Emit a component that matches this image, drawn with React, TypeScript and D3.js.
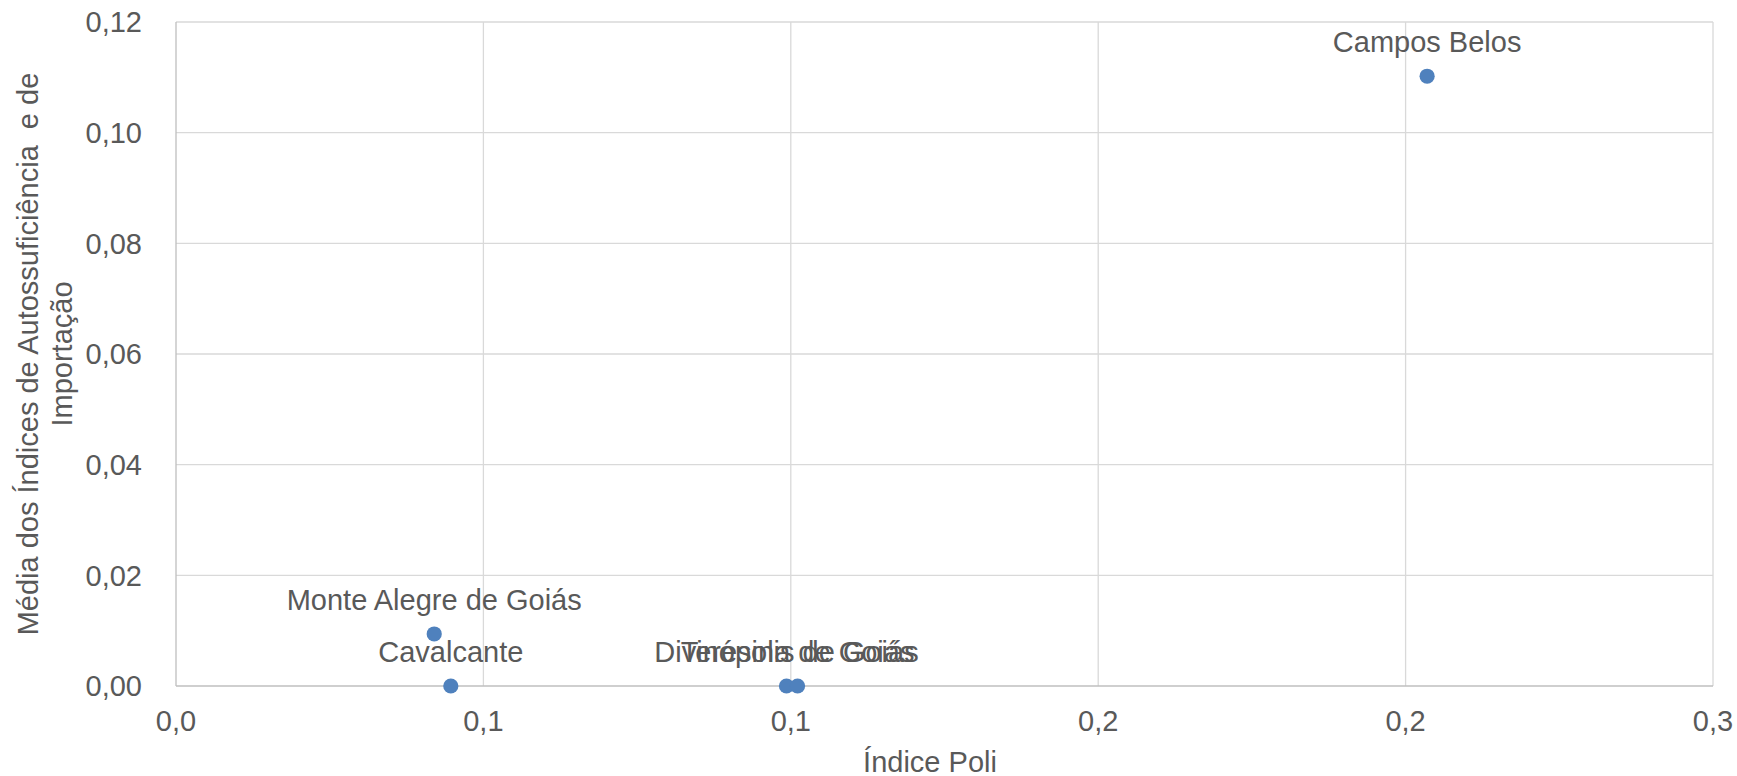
import React from "react";
import * as d3 from "d3";

const names = ["Campos Belos", "Monte Alegre de Goiás", "Cavalcante", "Divinópolis de Goiás", "Teresina de Goiás"];
const poliValues = [0.2035, 0.042, 0.0447, 0.0993, 0.1011];
const mediaValues = [0.1102, 0.0094, 0, 0, 0];
const xTickValues = [0, 0.05, 0.1, 0.15, 0.2, 0.25];
const xTickLabels = ["0,0", "0,1", "0,1", "0,2", "0,2", "0,3"];
const yTickValues = [0, 0.02, 0.04, 0.06, 0.08, 0.1, 0.12];
const yTickLabels = ["0,00", "0,02", "0,04", "0,06", "0,08", "0,10", "0,12"];
const xTitle = "Índice Poli";
const yTitleLines = ["Média dos Índices de Autossuficiência  e de", "Importação"];

const W = 1737;
const H = 776;
const left = 176;
const right = 1713;
const top = 22;
const bottom = 686;
const font = "'Liberation Sans', Arial, Helvetica, sans-serif";
const textColor = "#595959";
const fs = 29;

export default function App() {
  const x = d3.scaleLinear().domain([0, 0.25]).range([left, right]);
  const y = d3.scaleLinear().domain([0, 0.12]).range([bottom, top]);

  return (
    <div style={{ position: "absolute", left: 0, top: 0 }}>
      <svg width={W} height={H} style={{ display: "block", background: "#fff" }} fontFamily={font}>
        {/* gridlines */}
        {yTickValues.map((v, i) =>
          v === 0 ? null : (
            <line key={"gy" + i} x1={left} x2={right} y1={y(v)} y2={y(v)} stroke="#d9d9d9" strokeWidth={1.3} />
          )
        )}
        {xTickValues.map((v, i) =>
          v === 0 ? null : (
            <line key={"gx" + i} x1={x(v)} x2={x(v)} y1={top} y2={bottom} stroke="#d9d9d9" strokeWidth={1.3} />
          )
        )}
        {/* axes */}
        <line x1={left} x2={left} y1={top} y2={bottom} stroke="#bfbfbf" strokeWidth={1.3} />
        <line x1={left} x2={right} y1={bottom} y2={bottom} stroke="#bfbfbf" strokeWidth={1.3} />
        {/* y tick labels */}
        {yTickValues.map((v, i) => (
          <text
            key={"ty" + i}
            x={142}
            y={y(v)}
            dy="0.36em"
            textAnchor="end"
            fontSize={fs}
            fill={textColor}
          >
            {yTickLabels[i]}
          </text>
        ))}
        {/* x tick labels */}
        {xTickValues.map((v, i) => (
          <text key={"tx" + i} x={x(v)} y={731} textAnchor="middle" fontSize={fs} fill={textColor}>
            {xTickLabels[i]}
          </text>
        ))}
        {/* axis titles */}
        <text x={930} y={772} textAnchor="middle" fontSize={fs} fill={textColor}>
          {xTitle}
        </text>
        {yTitleLines.map((t, i) => (
          <text
            key={"yt" + i}
            transform={`translate(${38 + i * 33.5},${(top + bottom) / 2}) rotate(-90)`}
            textAnchor="middle"
            fontSize={fs}
            fill={textColor}
            style={{ whiteSpace: "pre" }}
          >
            {t}
          </text>
        ))}
        {/* points */}
        {names.map((n, i) => (
          <circle key={"p" + i} cx={x(poliValues[i])} cy={y(mediaValues[i])} r={7.6} fill="#4f81bd" />
        ))}
        {/* labels */}
        {names.map((n, i) => (
          <text
            key={"l" + i}
            x={x(poliValues[i])}
            y={y(mediaValues[i]) - 24}
            textAnchor="middle"
            fontSize={fs}
            fill={textColor}
          >
            {n}
          </text>
        ))}
      </svg>
    </div>
  );
}
